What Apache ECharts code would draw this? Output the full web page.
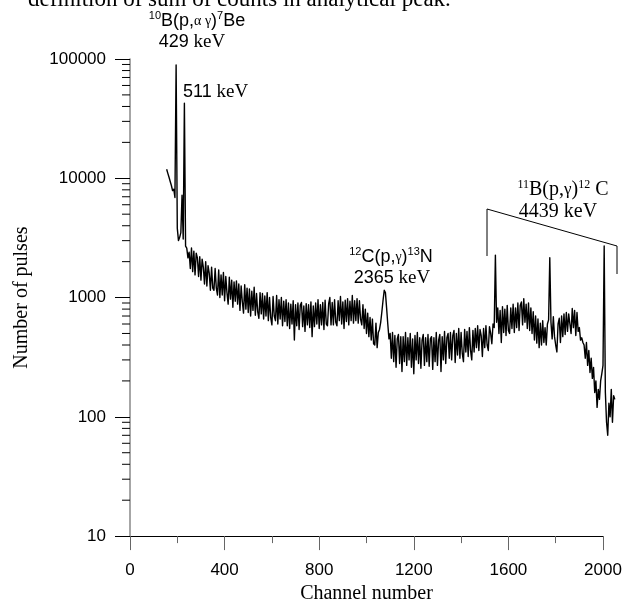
<!DOCTYPE html>
<html>
<head>
<meta charset="utf-8">
<script src="https://cdn.jsdelivr.net/npm/echarts@6/dist/echarts.min.js"></script>
<style>
  html, body { margin: 0; padding: 0; background: #fff; }
  #chart { width: 634px; height: 609px; }
</style>
</head>
<body>
<div id="chart"></div>
<script>
// Gamma spectrum (counts per channel), log y. Channels start at 155, step 5.
const CH_START = 155
const CH_STEP = 5

// one row = 100 channels (20 samples)
const COUNTS = [
  11900, 11000, 10200, 9400, 8700, 7900, 8100, 6900, 89000, 3800, 3000, 3200, 3500, 7200, 3100, 42500, 2700, 2600, 2150, 2400,
  1750, 2600, 1650, 2450, 1550, 2350, 2150, 1500, 2200, 1400, 2100, 1800, 1300, 2000, 1250, 1850, 1600, 1150, 1800, 1200,
  1150, 1750, 1200, 1050, 1700, 1000, 1550, 1050, 1620, 940, 1500, 1100, 880, 1480, 970, 1400, 830, 1350, 930, 1380,
  880, 1300, 780, 1250, 920, 740, 1280, 800, 1200, 750, 1180, 700, 1130, 780, 1220, 710, 1080, 760, 670, 1100,
  730, 1080, 660, 1030, 700, 1100, 640, 1000, 680, 590, 1020, 700, 640, 1040, 600, 960, 660, 1000, 580, 930,
  630, 960, 580, 900, 550, 880, 600, 940, 440, 870, 580, 900, 540, 860, 910, 570, 850, 520, 890, 590,
  870, 560, 920, 470, 850, 570, 900, 600, 960, 550, 870, 590, 910, 540, 950, 600, 580, 890, 1000, 590,
  910, 590, 960, 620, 580, 940, 640, 1020, 600, 920, 550, 950, 630, 980, 590, 930, 640, 1040, 610, 940,
  640, 980, 610, 940, 660, 590, 870, 550, 800, 500, 740, 470, 680, 440, 660, 410, 400, 610, 380, 510,
  540, 620, 760, 950, 1150, 1100, 820, 600, 450, 500, 310, 510, 290, 480, 260, 450, 490, 280, 470, 240,
  470, 290, 510, 270, 460, 300, 500, 260, 450, 230, 480, 300, 510, 280, 460, 255, 440, 490, 270, 460,
  290, 490, 265, 450, 470, 250, 460, 290, 510, 270, 440, 490, 240, 470, 300, 520, 280, 460, 500, 310,
  510, 300, 480, 530, 285, 500, 330, 550, 310, 510, 340, 290, 540, 350, 520, 320, 560, 360, 300, 530,
  350, 550, 380, 580, 360, 540, 480, 320, 550, 380, 580, 400, 360, 570, 500, 410, 600, 560, 2270, 620,
  820, 500, 780, 420, 840, 510, 800, 480, 860, 530, 500, 820, 550, 880, 510, 820, 560, 900, 530, 860,
  920, 590, 980, 620, 880, 550, 900, 530, 820, 500, 760, 440, 700, 415, 660, 380, 610, 400, 640, 420,
  560, 400, 600, 650, 2160, 620, 450, 690, 470, 400, 350, 600, 670, 420, 700, 470, 730, 490, 750, 520,
  730, 600, 500, 810, 560, 780, 480, 750, 520, 560, 440, 460, 420, 400, 310, 420, 270, 360, 235, 310,
  210, 260, 160, 200, 120, 170, 140, 200, 230, 270, 2710, 160, 90, 70, 130, 100, 170, 90, 150, 140,
]

// y minor ticks at 2..9 of every decade
const DECADES = [10, 100, 1000, 10000]
const MULTS = [2, 3, 4, 5, 6, 7, 8, 9]

const SANS = '"Liberation Sans", Arial, sans-serif'
const SERIF = '"Liberation Serif", "Times New Roman", serif'

const spectrum = COUNTS.map((c, i) => [CH_START + i * CH_STEP, c])
const minorY = []
DECADES.forEach((d) => MULTS.forEach((m) => minorY.push([0, d * m])))

const rich = {
  s: { fontFamily: SANS, fontSize: 18, lineHeight: 22, fill: '#000' },
  sup: { fontFamily: SANS, fontSize: 11, lineHeight: 12, verticalAlign: 'top', fill: '#000' },
  g: { fontFamily: SERIF, fontSize: 14, lineHeight: 22, fill: '#000' },
  t: { fontFamily: SERIF, fontSize: 19, lineHeight: 22, fill: '#000' },
  t2: { fontFamily: SERIF, fontSize: 20, lineHeight: 22, fill: '#000' },
  tsup: { fontFamily: SERIF, fontSize: 12, lineHeight: 12, verticalAlign: 'top', fill: '#000' },
  tg: { fontFamily: SERIF, fontSize: 17, lineHeight: 22, fill: '#000' },
}

function label(x, y, text, align) {
  return {
    type: 'text', x, y, z: 10,
    style: { text, rich, align: align || 'center', verticalAlign: 'middle', fill: '#000' },
  }
}

const chart = echarts.init(document.getElementById('chart'), null, { renderer: 'canvas' })

chart.setOption({
  animation: false,
  grid: { left: 130, right: 31, top: 59, bottom: 66 },
  xAxis: {
    type: 'value', min: 0, max: 2000, interval: 400,
    name: 'Channel number', nameLocation: 'middle', nameGap: 46,
    nameTextStyle: { fontFamily: SERIF, fontSize: 20, color: '#000' },
    axisLine: { lineStyle: { color: '#000', width: 1 } },
    axisTick: { length: 14, lineStyle: { color: '#666' } },
    minorTick: { show: true, splitNumber: 2, length: 7, lineStyle: { color: '#666' } },
    axisLabel: { fontFamily: SANS, fontSize: 17, color: '#000', margin: 26, formatter: (v) => String(v) },
    splitLine: { show: false },
  },
  yAxis: {
    type: 'log', logBase: 10, min: 10, max: 100000,
    name: 'Number of pulses', nameLocation: 'middle', nameGap: 98,
    nameTextStyle: { fontFamily: SERIF, fontSize: 20, color: '#000' },
    axisLine: { lineStyle: { color: '#888', width: 1.5 } },
    axisTick: { length: 15, lineStyle: { color: '#000' } },
    axisLabel: { fontFamily: SANS, fontSize: 17, color: '#000', margin: 24, formatter: (v) => String(Math.round(v)) },
    splitLine: { show: false },
  },
  series: [
    {
      // custom so the tail past channel 2000 is not clipped
      type: 'custom', data: spectrum, clip: false, silent: true,
      encode: { x: 0, y: 1 },
      renderItem: (params, api) => {
        if (params.dataIndex !== 0) return null
        return {
          type: 'polyline',
          shape: { points: spectrum.map((d) => api.coord(d)) },
          style: { stroke: '#000', fill: null, lineWidth: 1.4, lineJoin: 'round' },
        }
      },
    },
    {
      type: 'custom', data: minorY, clip: false, silent: true,
      encode: { x: 0, y: 1 },
      renderItem: (params, api) => {
        const p = api.coord([0, api.value(1)])
        return {
          type: 'line',
          shape: { x1: p[0] - 8, y1: p[1], x2: p[0], y2: p[1] },
          style: { stroke: '#000', lineWidth: 1 },
        }
      },
    },
  ],
  graphic: [
    {
      type: 'text', x: 28, y: 11,
      style: { text: 'definition of sum of counts in analytical peak.', fontFamily: SERIF, fontSize: 23, fill: '#000', align: 'left', verticalAlign: 'bottom' },
    },
    label(197, 21, '{sup|10}{s|B(p,}{g|α γ}{s|)}{sup|7}{s|Be}'),
    label(192, 42, '{s|429}{t| keV}'),
    label(183, 92, '{s|511}{t| keV}', 'left'),
    label(391, 257, '{sup|12}{s|C(p,}{g|γ}{s|)}{sup|13}{s|N}'),
    label(392, 278, '{s|2365}{t| keV}'),
    label(563, 190, '{tsup|11}{t2|B(p,}{tg|γ}{t2|)}{tsup|12}{t2| C}'),
    label(558, 212, '{t2|4439 keV}'),
    {
      type: 'polyline', z: 10,
      shape: { points: [[487, 256], [487, 209], [617, 246], [617, 274]] },
      style: { stroke: '#000', fill: null, lineWidth: 1 },
    },
  ],
})
</script>
</body>
</html>
